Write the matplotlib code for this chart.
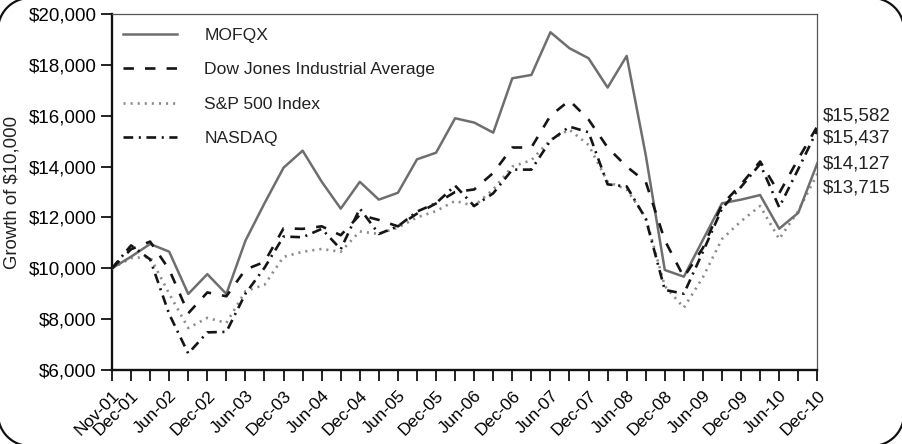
import matplotlib
matplotlib.use("Agg")
import numpy as np
import matplotlib.pyplot as plt
import matplotlib.transforms as mtransforms
from matplotlib.lines import Line2D

plt.rcParams['font.family'] = ['Liberation Sans', 'DejaVu Sans']
plt.rcParams['lines.scale_dashes'] = False

# ---------------- data ----------------
quarters = ['Nov-01', 'Dec-01',
            'Mar-02', 'Jun-02', 'Sep-02', 'Dec-02',
            'Mar-03', 'Jun-03', 'Sep-03', 'Dec-03',
            'Mar-04', 'Jun-04', 'Sep-04', 'Dec-04',
            'Mar-05', 'Jun-05', 'Sep-05', 'Dec-05',
            'Mar-06', 'Jun-06', 'Sep-06', 'Dec-06',
            'Mar-07', 'Jun-07', 'Sep-07', 'Dec-07',
            'Mar-08', 'Jun-08', 'Sep-08', 'Dec-08',
            'Mar-09', 'Jun-09', 'Sep-09', 'Dec-09',
            'Mar-10', 'Jun-10', 'Sep-10', 'Dec-10']

mofqx = [10000, 10456, 10956, 10653, 8990, 9770, 8990, 11085, 12556, 13957,
         14625, 13406, 12345, 13400, 12700, 12970, 14285, 14545, 15900, 15730,
         15335, 17472, 17603, 19282, 18653, 18260, 17107, 18351, 14450, 9933,
         9670, 11120, 12556, 12700, 12880, 11557, 12180, 14127]

djia = [10000, 10750, 11050, 9950, 8230, 9050, 8900, 9950, 10250, 11570,
        11550, 11650, 11300, 12100, 11900, 11650, 12150, 12550, 13000, 13100,
        13750, 14750, 14750, 16000, 16600, 15850, 14750, 14000, 13400, 11100,
        9650, 10800, 12500, 13300, 14200, 12950, 14300, 15582]

sp500 = [10000, 10400, 10450, 9000, 7650, 8050, 7850, 9100, 9350, 10450,
         10650, 10760, 10650, 11450, 11350, 11600, 12000, 12250, 12650, 12450,
         13100, 14000, 14250, 15050, 15450, 14850, 13400, 13100, 12000, 9300,
         8450, 9650, 11150, 11850, 12450, 11150, 12250, 13715]

nasdaq = [10000, 10900, 10350, 8200, 6650, 7480, 7500, 9000, 10020, 11250,
          11220, 11550, 10750, 12350, 11350, 11650, 12230, 12560, 13250, 12450,
          12950, 13880, 13880, 15020, 15570, 15350, 13300, 13220, 11950, 9150,
          9000, 10650, 12350, 13200, 14100, 12400, 13900, 15437]

series_names = ['MOFQX', 'Dow Jones Industrial Average', 'S&P 500 Index', 'NASDAQ']
yticks = [6000, 8000, 10000, 12000, 14000, 16000, 18000, 20000]
shown_labels = [q if (q in ('Nov-01', 'Dec-01') or q.startswith('Jun') or q.startswith('Dec')) else ''
                for q in quarters]

# ---------------- figure ----------------
W, H = 902, 444
fig = plt.figure(figsize=(W / 100, H / 100), dpi=100)
ax = fig.add_axes([112 / W, 74 / H, 705.3 / W, 356 / H])

x = np.arange(len(quarters))
ax.plot(x, mofqx, color='#6e6e6e', lw=1.8, label=series_names[0], zorder=3)
ax.plot(x, djia, color='#151515', lw=1.9, dashes=(7.5, 8.0), label=series_names[1], zorder=4)
ax.plot(x, sp500, color='#8c8c8c', lw=1.9, dashes=(1.5, 3.6), label=series_names[2], zorder=2)
ax.plot(x, nasdaq, color='#151515', lw=1.9, dashes=(7.0, 4.0, 1.5, 4.0), label=series_names[3], zorder=4)

ax.set_xlim(0, len(quarters) - 1)
ax.set_ylim(6000, 20000)
ax.set_yticks(yticks)
ax.set_yticklabels([f"${v:,.0f}" for v in yticks], fontsize=13.5)
ax.set_xticks(x)
ax.set_xticklabels(shown_labels, fontsize=12.5, rotation=45, ha='right', va='top',
                   rotation_mode='anchor')
offset = mtransforms.ScaledTranslation(10 / 100, 0, fig.dpi_scale_trans)
for lab in ax.get_xticklabels():
    lab.set_transform(lab.get_transform() + offset)

ax.tick_params(axis='both', direction='out', length=8, width=1.3, color='#111111')
ax.tick_params(axis='x', pad=5)
ax.tick_params(axis='y', pad=3)

for s in ('left', 'bottom'):
    ax.spines[s].set_linewidth(1.7)
    ax.spines[s].set_color('#111111')
for s in ('top', 'right'):
    ax.spines[s].set_linewidth(0.9)
    ax.spines[s].set_color('#555555')

ax.set_ylabel('Growth of $10,000', fontsize=13.4, color='#222222')
ax.yaxis.set_label_coords((21 - 112) / 705.3, 0.5)

leg = ax.legend(loc='upper left', bbox_to_anchor=(0.0156, 0.962), frameon=False,
                fontsize=12.6, handlelength=3.1, handletextpad=1.55, labelspacing=1.1,
                borderaxespad=0, borderpad=0)
for t in leg.get_texts():
    t.set_color('#222222')

# end-value labels on the right, stacked
ends = sorted([djia[-1], nasdaq[-1], mofqx[-1], sp500[-1]], reverse=True)
label_y = [15990, 15120, 14110, 13150]
for v, yy in zip(ends, label_y):
    ax.text(1.0077, yy, f"${v:,.0f}", transform=ax.get_yaxis_transform(),
            ha='left', va='center', fontsize=13.5, color='#222222', clip_on=False)

# rounded outer frame drawn as a polyline (only the corners fall inside the canvas)
r, e = 32.0, 2.0
x0, x1, y0, y1 = -e, W + e, -e, H + e
corners = [((x0 + r, y0 + r), 180, 270), ((x1 - r, y0 + r), 270, 360),
           ((x1 - r, y1 - r), 0, 90), ((x0 + r, y1 - r), 90, 180)]
px, py = [], []
for (cx, cy), a0, a1 in corners:
    t = np.radians(np.linspace(a0, a1, 40))
    px.extend(cx + r * np.cos(t))
    py.extend(cy + r * np.sin(t))
px.append(px[0])
py.append(py[0])
frame = Line2D(np.array(px) / W, np.array(py) / H, transform=fig.transFigure,
               color='#111111', lw=1.6, solid_joinstyle='round')
fig.add_artist(frame)

fig.savefig('out.png', dpi=100)
